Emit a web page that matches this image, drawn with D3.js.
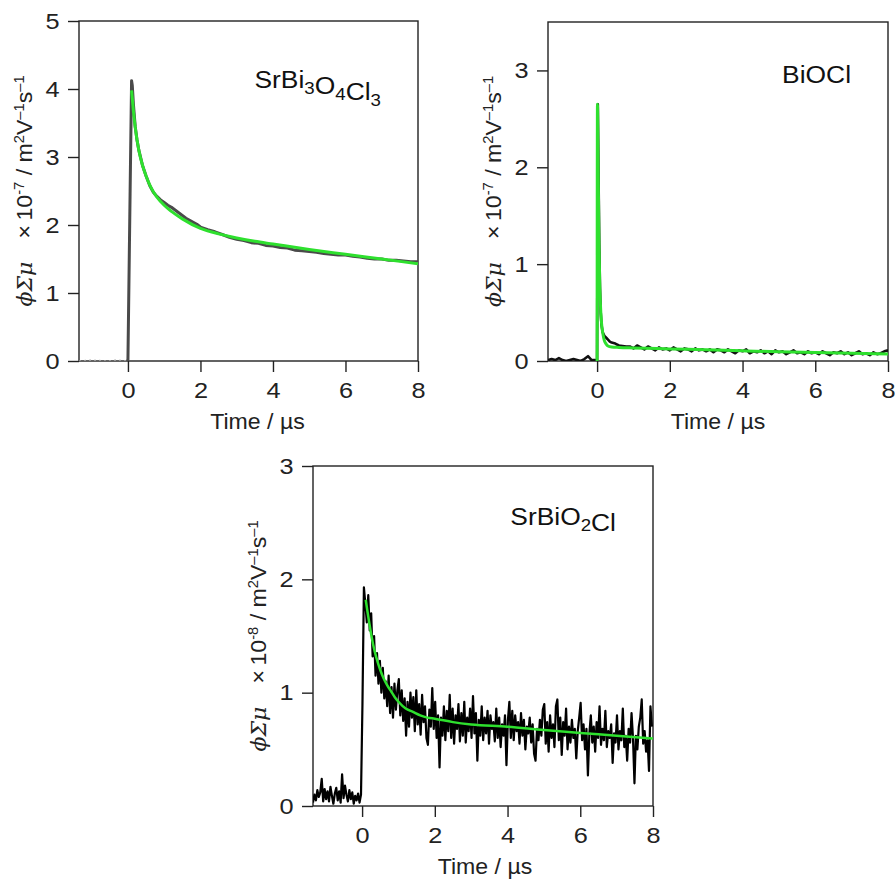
<!DOCTYPE html>
<html>
<head>
<meta charset="utf-8">
<script src="https://cdn.jsdelivr.net/npm/d3@7"></script>
<style>
  body { margin: 0; background: white; }
  svg { display: block; }
</style>
</head>
<body>
<div id="chart"></div>
<script>
// shared axis ticks
const xTicks = [0, 2, 4, 6, 8];
const xDomain = [-1.35, 8];

// SrBi3O4Cl3 transient (time in us, value x 1e-7)
const timeA = [-1.35, -1.0, -0.6, -0.3, -0.02, 0.0, 0.06, 0.1, 0.12, 0.15, 0.2, 0.25, 0.3, 0.4, 0.5, 0.6, 0.7, 0.8, 0.9,
  1.0, 1.1, 1.2, 1.3, 1.4, 1.5, 1.6, 1.7, 1.8, 1.9, 2.0, 2.2, 2.4, 2.6, 2.8, 3.0, 3.2, 3.4, 3.6, 3.8, 4.0,
  4.2, 4.4, 4.6, 4.8, 5.0, 5.2, 5.4, 5.6, 5.8, 6.0, 6.2, 6.4, 6.6, 6.8, 7.0, 7.2, 7.4, 7.6, 7.8, 8.0];
const signalA = [0, 0.01, 0, 0.01, 0, 0.02, 2.5, 4.12, 4.05, 3.78, 3.45, 3.25, 3.1, 2.88, 2.72, 2.58, 2.48, 2.42, 2.37,
  2.33, 2.29, 2.26, 2.22, 2.18, 2.14, 2.10, 2.07, 2.04, 2.01, 1.97, 1.93, 1.90, 1.86, 1.82, 1.79, 1.77, 1.74, 1.73, 1.70, 1.69,
  1.67, 1.66, 1.63, 1.62, 1.61, 1.60, 1.58, 1.57, 1.56, 1.56, 1.54, 1.53, 1.51, 1.50, 1.50, 1.48, 1.48, 1.47, 1.46, 1.46];
const fitTimeA = [0.1, 0.15, 0.2, 0.3, 0.4, 0.5, 0.6, 0.7, 0.8, 1.0, 1.2, 1.5, 2.0, 2.5, 3.0, 3.5, 4.0, 5.0, 6.0, 7.0, 8.0];
const fitA = [3.98, 3.68, 3.44, 3.10, 2.88, 2.72, 2.59, 2.49, 2.41, 2.29, 2.20, 2.09, 1.95, 1.87, 1.81, 1.76, 1.72, 1.64, 1.57, 1.50, 1.43];

// BiOCl transient (x 1e-7)
const timeB = [-1.35, -1.25, -1.15, -1.05, -0.95, -0.85, -0.75, -0.65, -0.55, -0.45, -0.35, -0.25, -0.15, -0.05,
  0.0, 0.02, 0.04, 0.06, 0.08, 0.1, 0.12, 0.15, 0.2, 0.25, 0.3, 0.35, 0.4, 0.5, 0.6, 0.7, 0.8,
  0.9, 1.0, 1.1, 1.2, 1.3, 1.4, 1.5, 1.6, 1.7, 1.8, 1.9, 2.0, 2.1, 2.2, 2.3, 2.4, 2.5, 2.6, 2.7, 2.8, 2.9,
  3.0, 3.1, 3.2, 3.3, 3.4, 3.5, 3.6, 3.7, 3.8, 3.9, 4.0, 4.1, 4.2, 4.3, 4.4, 4.5, 4.6, 4.7, 4.8, 4.9,
  5.0, 5.1, 5.2, 5.3, 5.4, 5.5, 5.6, 5.7, 5.8, 5.9, 6.0, 6.1, 6.2, 6.3, 6.4, 6.5, 6.6, 6.7, 6.8, 6.9,
  7.0, 7.1, 7.2, 7.3, 7.4, 7.5, 7.6, 7.7, 7.8, 7.9, 8.0];
const signalB = [0.01, 0.02, 0.01, 0.03, 0.01, 0.0, 0.01, 0.02, 0.01, 0.0, 0.02, 0.05, 0.01, 0.01,
  0.0, 2.65, 1.9, 1.2, 0.75, 0.5, 0.38, 0.3, 0.26, 0.24, 0.22, 0.2, 0.19, 0.18, 0.16, 0.155, 0.15,
  0.15, 0.13, 0.16, 0.14, 0.12, 0.15, 0.13, 0.11, 0.14, 0.12, 0.13, 0.11, 0.14, 0.12, 0.10, 0.13, 0.12, 0.10, 0.13, 0.11, 0.12,
  0.10, 0.12, 0.09, 0.12, 0.11, 0.09, 0.12, 0.10, 0.08, 0.11, 0.10, 0.12, 0.08, 0.10, 0.09, 0.11, 0.08, 0.10, 0.07, 0.11,
  0.09, 0.10, 0.07, 0.09, 0.11, 0.08, 0.09, 0.07, 0.10, 0.08, 0.09, 0.07, 0.10, 0.08, 0.06, 0.09, 0.08, 0.10, 0.07, 0.09,
  0.06, 0.08, 0.10, 0.07, 0.08, 0.06, 0.09, 0.07, 0.08, 0.10, 0.11];
const fitTimeB = [0, 0.01, 0.03, 0.05, 0.07, 0.09, 0.12, 0.16, 0.2, 0.25, 0.3, 0.4, 0.6, 1, 2, 3, 4, 5, 6, 7, 8];
const fitB = [0, 2.65, 2.0, 1.3, 0.85, 0.6, 0.4, 0.28, 0.21, 0.175, 0.155, 0.145, 0.14, 0.135, 0.125, 0.115, 0.105, 0.095, 0.088, 0.08, 0.072];

// SrBiO2Cl transient (x 1e-8), recorded every 0.04 us from -1.35 us
const startC = -1.35;
const stepC = 0.04;
const signalC = [
  0.03, 0.10, 0.05, 0.14, 0.08, 0.12, 0.24, 0.04, 0.15, 0.06,
  0.13, 0.04, 0.17, 0.09, 0.02, 0.11, 0.16, 0.05, 0.13, 0.03,
  0.28, 0.07, 0.18, 0.10, 0.04, 0.14, 0.06, 0.12, 0.02, 0.09,
  0.05, 0.11, 0.03, 0.10,
  0.90, 1.93, 1.78, 1.62, 1.86, 1.55, 1.70, 1.32, 1.50, 1.15,
  1.35, 1.08, 1.28, 1.00, 1.22, 0.95, 1.10, 0.88, 1.15, 0.82,
  1.05, 0.78, 1.08, 0.85, 1.02, 1.12, 0.80, 1.02, 0.75, 0.95,
  0.62, 0.92, 0.70, 1.00, 0.78, 0.96, 0.66, 1.02, 0.72, 0.90,
  0.63, 0.98, 0.74, 0.88, 0.60, 0.54, 0.85, 0.70, 1.04, 0.68,
  0.92, 0.60, 0.80, 0.34, 0.78, 0.62, 0.88, 0.58, 0.84, 0.66,
  0.98, 0.60, 0.86, 0.55, 0.80, 0.68, 0.90, 0.57, 0.82, 0.62,
  0.92, 0.56, 0.78, 0.66, 0.86, 0.60, 0.97, 0.64, 0.82, 0.40,
  0.76, 0.62, 0.88, 0.58, 0.78, 0.64, 0.84, 0.55, 0.80, 0.68,
  0.74, 0.57, 0.86, 0.60, 0.78, 0.52, 0.72, 0.62, 0.80, 0.36,
  0.76, 0.92, 0.60, 0.84, 0.58, 0.80, 0.66, 0.74, 0.55, 0.82,
  0.62, 0.76, 0.50, 0.70, 0.64, 0.78, 0.56, 0.72, 0.46, 0.40,
  0.68, 0.58, 0.76, 0.62, 0.85, 0.90, 0.55, 0.74, 0.48, 0.80,
  0.60, 0.72, 0.52, 0.88, 0.94, 0.58, 0.78, 0.45, 0.74, 0.62,
  0.86, 0.50, 0.70, 0.56, 0.76, 0.60, 0.68, 0.42, 0.66, 0.78,
  0.91, 0.58, 0.72, 0.50, 0.68, 0.27, 0.64, 0.80, 0.56, 0.70,
  0.48, 0.74, 0.60, 0.88, 0.54, 0.68, 0.58, 0.84, 0.52, 0.66,
  0.60, 0.72, 0.38, 0.64, 0.56, 0.80, 0.50, 0.66, 0.58, 0.86,
  0.52, 0.62, 0.40, 0.68, 0.56, 0.82, 0.60, 0.20, 0.62, 0.50,
  0.70, 0.78, 0.94, 0.55, 0.66, 0.48, 0.58, 0.31, 0.88, 0.70];
const fitTimeC = [0.1, 0.2, 0.3, 0.4, 0.5, 0.6, 0.7, 0.8, 0.9, 1.0, 1.2, 1.4, 1.6, 1.8, 2.0, 2.5, 3, 4, 5, 6, 7, 8];
const fitC = [1.82, 1.61, 1.43, 1.30, 1.20, 1.12, 1.06, 1.01, 0.96, 0.92, 0.86, 0.83, 0.80, 0.78, 0.77, 0.74, 0.72, 0.70, 0.67, 0.645, 0.62, 0.595];

const width = 895;
const height = 883;
const sans = '"Liberation Sans", Arial, sans-serif';
const green = '#2ee02e';

let svg = d3.select('#chart')
            .append('svg')
            .attr('width', width)
            .attr('height', height)
            .style('background', 'white');

function drawPanel(p) {
  let x = d3.scaleLinear().domain(xDomain).range([p.left, p.right]);
  let y = d3.scaleLinear().domain([0, p.yMax]).range([p.bottom, p.top]);
  let g = svg.append('g');

  g.append('clipPath').attr('id', p.id)
    .append('rect')
    .attr('x', p.left).attr('y', p.top)
    .attr('width', p.right - p.left).attr('height', p.bottom - p.top);

  // axes, ticks outside
  let xAxis = g.append('g')
    .attr('transform', `translate(0, ${p.bottom})`)
    .call(d3.axisBottom(x).tickValues(xTicks).tickSize(11).tickPadding(10).tickFormat(d3.format('d')));
  let yAxis = g.append('g')
    .attr('transform', `translate(${p.left}, 0)`)
    .call(d3.axisLeft(y).tickValues(p.yTicks).tickSize(11).tickPadding(6).tickFormat(d3.format('d')));
  [xAxis, yAxis].forEach(a => {
    a.select('.domain').remove();
    a.selectAll('line').attr('stroke', '#222').attr('stroke-width', 1.4);
    a.selectAll('text')
      .attr('fill', '#222')
      .style('font-family', sans)
      .style('font-size', '22px')
      .attr('transform', 'scale(1.15,1)');
  });

  // frame
  g.append('rect')
    .attr('x', p.left).attr('y', p.top)
    .attr('width', p.right - p.left).attr('height', p.bottom - p.top)
    .attr('fill', 'none').attr('stroke', '#222').attr('stroke-width', 1.4);

  let plot = g.append('g').attr('clip-path', `url(#${p.id})`);
  let dataLine = d3.line().x(d => x(d[0])).y(d => y(d[1]));
  let fitLine = d3.line().x(d => x(d[0])).y(d => y(d[1])).curve(d3.curveMonotoneX);
  let points = d3.zip(p.time, p.signal);

  // baseline before the pulse, drawn faint when asked
  if (p.faintBaseline) {
    plot.append('path')
      .datum(points.filter(d => d[0] <= 0))
      .attr('fill', 'none')
      .attr('stroke', '#999')
      .attr('stroke-width', 1.6)
      .attr('stroke-dasharray', '2,3')
      .attr('d', dataLine);
    points = points.filter(d => d[0] >= -0.02);
  }
  plot.append('path')
    .datum(points)
    .attr('fill', 'none')
    .attr('stroke', p.dataColor)
    .attr('stroke-width', p.dataWidth)
    .attr('stroke-linejoin', 'round')
    .attr('d', dataLine);
  plot.append('path')
    .datum(d3.zip(p.fitTime, p.fit))
    .attr('fill', 'none')
    .attr('stroke', green)
    .attr('stroke-width', p.fitWidth)
    .attr('d', fitLine);

  // compound name with subscripts
  let title = g.append('text')
    .attr('transform', `translate(${p.right - 37}, ${p.top + p.titleDy}) scale(1.1,1)`)
    .attr('text-anchor', 'end')
    .style('font-family', sans)
    .style('font-size', '24px')
    .attr('fill', '#111');
  p.title.forEach(part => {
    if (part.sub) {
      title.append('tspan').attr('dy', 6).style('font-size', '17px').text(part.text);
      title.append('tspan').attr('dy', -6).text('');
    } else {
      title.append('tspan').text(part.text);
    }
  });

  // x label
  g.append('text')
    .attr('transform', `translate(${(p.left + p.right) / 2 + p.xLabelDx}, ${p.bottom + 68}) scale(1.05,1)`)
    .attr('text-anchor', 'middle')
    .style('font-family', sans)
    .style('font-size', '22px')
    .attr('fill', '#222')
    .text('Time / \u00b5s');

  // y label
  let yl = g.append('text')
    .attr('transform', `translate(${p.left - 47}, ${(p.top + p.bottom) / 2}) rotate(-90) scale(1.05,1)`)
    .attr('text-anchor', 'middle')
    .style('font-family', sans)
    .style('font-size', '22px')
    .attr('fill', '#222');
  yl.append('tspan').style('font-family', '"DejaVu Serif", "Liberation Serif", serif').style('font-style', 'italic').style('font-size', '21px').text('\u03d5\u03a3\u03bc');
  yl.append('tspan').text('\u2003\u00d7\u200910');
  yl.append('tspan').attr('dy', -8).style('font-size', '14px').text(p.exponent);
  yl.append('tspan').attr('dy', 8).text(' / m');
  yl.append('tspan').attr('dy', -8).style('font-size', '14px').text('2');
  yl.append('tspan').attr('dy', 8).text('V');
  yl.append('tspan').attr('dy', -8).style('font-size', '14px').text('\u20131');
  yl.append('tspan').attr('dy', 8).text('s');
  yl.append('tspan').attr('dy', -8).style('font-size', '14px').text('\u20131');
}

drawPanel({
  id: 'clipA', left: 79, right: 418, top: 21, bottom: 361, yMax: 5, yTicks: [0, 1, 2, 3, 4, 5],
  time: timeA, signal: signalA, fitTime: fitTimeA, fit: fitA, faintBaseline: true,
  dataColor: '#4a4a4a', dataWidth: 3, fitWidth: 3, exponent: '-7', titleDy: 67, xLabelDx: 9,
  title: [{text: 'SrBi'}, {text: '3', sub: true}, {text: 'O'}, {text: '4', sub: true}, {text: 'Cl'}, {text: '3', sub: true}]
});

drawPanel({
  id: 'clipB', left: 548, right: 888, top: 22, bottom: 361, yMax: 3.5, yTicks: [0, 1, 2, 3],
  time: timeB, signal: signalB, fitTime: fitTimeB, fit: fitB,
  dataColor: '#111', dataWidth: 2.6, fitWidth: 3, exponent: '-7', titleDy: 61, xLabelDx: 0,
  title: [{text: 'BiOCl'}]
});

drawPanel({
  id: 'clipC', left: 313, right: 653, top: 466, bottom: 806, yMax: 3, yTicks: [0, 1, 2, 3],
  time: signalC.map((v, i) => startC + i * stepC), signal: signalC, fitTime: fitTimeC, fit: fitC,
  dataColor: '#000', dataWidth: 2.2, fitWidth: 2.5, exponent: '-8', titleDy: 59, xLabelDx: 2,
  title: [{text: 'SrBiO'}, {text: '2', sub: true}, {text: 'Cl'}]
});
</script>
</body>
</html>
